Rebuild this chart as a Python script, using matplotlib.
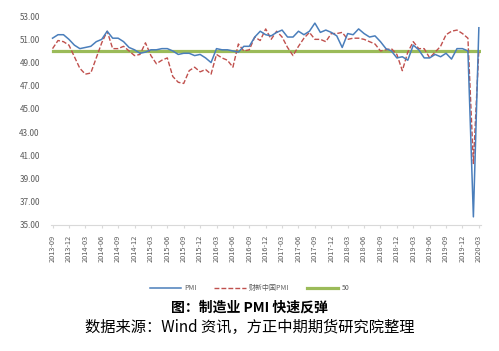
import matplotlib
matplotlib.use("Agg")
import matplotlib.pyplot as plt

plt.rcParams['font.family'] = ['Noto Sans CJK SC', 'DejaVu Sans']

# monthly 2013-09 .. 2020-03
months = []
y, m = 2013, 9
while (y, m) <= (2020, 3):
    months.append('%d-%02d' % (y, m))
    m += 1
    if m > 12:
        y, m = y + 1, 1

pmi = [51.1, 51.4, 51.4, 51.0,
       50.5, 50.2, 50.3, 50.4, 50.8, 51.0, 51.7, 51.1, 51.1, 50.8, 50.3, 50.1,
       49.8, 49.9, 50.1, 50.1, 50.2, 50.2, 50.0, 49.7, 49.8, 49.8, 49.6, 49.7,
       49.4, 49.0, 50.2, 50.1, 50.1, 50.0, 49.9, 50.4, 50.4, 51.2, 51.7, 51.4,
       51.3, 51.6, 51.8, 51.2, 51.2, 51.7, 51.4, 51.7, 52.4, 51.6, 51.8, 51.6,
       51.3, 50.3, 51.5, 51.4, 51.9, 51.5, 51.2, 51.3, 50.8, 50.2, 50.0, 49.4,
       49.5, 49.2, 50.5, 50.1, 49.4, 49.4, 49.7, 49.5, 49.8, 49.3, 50.2, 50.2,
       50.0, 35.7, 52.0]

caixin = [50.2, 50.9, 50.8, 50.5,
          49.5, 48.5, 48.0, 48.1, 49.4, 50.7, 51.7, 50.2, 50.2, 50.4, 50.0, 49.6,
          49.7, 50.7, 49.6, 48.9, 49.2, 49.4, 47.8, 47.3, 47.2, 48.3, 48.6, 48.2,
          48.4, 48.0, 49.7, 49.4, 49.2, 48.6, 50.6, 50.0, 50.1, 51.2, 50.9, 51.9,
          51.0, 51.7, 51.2, 50.3, 49.6, 50.4, 51.1, 51.6, 51.0, 51.0, 50.8, 51.5,
          51.5, 51.6, 51.0, 51.1, 51.1, 51.0, 50.8, 50.6, 50.0, 50.1, 50.2, 49.7,
          48.3, 49.9, 50.8, 50.2, 50.2, 49.4, 49.9, 50.4, 51.4, 51.7, 51.8, 51.5,
          51.1, 40.3, 50.1]

line50 = [50] * len(months)

fig = plt.figure(figsize=(4.99, 3.51), dpi=100)
ax = fig.add_axes([0.102, 0.359, 0.862, 0.595])

x = list(range(len(months)))
ax.plot(x, line50, color='#9BBB59', lw=2.3, label='50', zorder=1)
ax.plot(x, pmi, color='#4A7EBB', lw=1.1, label='PMI', zorder=3)
ax.plot(x, caixin, color='#C0504D', lw=1.0, ls=(0, (3.5, 1.5)), label='财新中国PMI', zorder=2)

ax.set_ylim(35, 53)
ax.set_yticks(range(35, 54, 2))
ax.set_yticklabels(['%.2f' % v for v in range(35, 54, 2)])
ax.set_xlim(-0.3, len(months) - 0.6)
ax.set_xticks(x[::3])
ax.set_xticklabels(months[::3], rotation=90)

for s in ['top', 'right', 'left']:
    ax.spines[s].set_visible(False)
ax.spines['bottom'].set_color('#D9D9D9')
ax.tick_params(axis='y', length=0, labelsize=5.8, labelcolor='#595959', pad=8)
ax.tick_params(axis='x', length=2, color='#D9D9D9', labelsize=5.3, labelcolor='#595959', pad=5)

h, l = ax.get_legend_handles_labels()
order = [1, 2, 0]
fig.legend([h[i] for i in order], [l[i] for i in order], loc='center',
           bbox_to_anchor=(0.5, 1 - 288 / 351), ncol=3, frameon=False,
           fontsize=5, labelcolor='#595959', handlelength=4.5, columnspacing=2.5,
           handletextpad=0.5)

fig.text(0.5, 1 - 308 / 351, '图：制造业 PMI 快速反弹', ha='center', va='center',
         fontsize=10, fontweight='bold', color='black')
fig.text(0.5, 1 - 327 / 351, '数据来源：Wind 资讯，方正中期期货研究院整理', ha='center', va='center',
         fontsize=11, color='black')

fig.savefig('out.png', dpi=100)
